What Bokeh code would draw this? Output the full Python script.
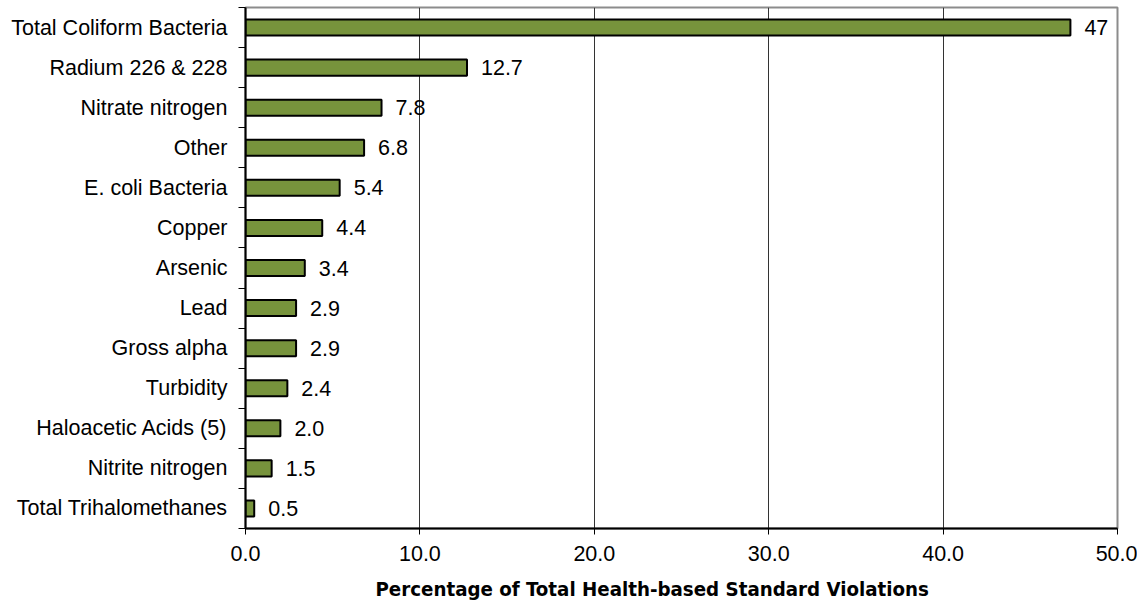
from bokeh.plotting import figure
from bokeh.models import ColumnDataSource, FixedTicker, NumeralTickFormatter, Range1d, LabelSet, Title
from bokeh.core.properties import value
from bokeh.embed import file_html
from bokeh.resources import INLINE

categories = ["Total Coliform Bacteria", "Radium 226 & 228", "Nitrate nitrogen", "Other",
              "E. coli Bacteria", "Copper", "Arsenic", "Lead", "Gross alpha", "Turbidity",
              "Haloacetic Acids (5)", "Nitrite nitrogen", "Total Trihalomethanes"]
values = [47.3, 12.7, 7.8, 6.8, 5.4, 4.4, 3.4, 2.9, 2.9, 2.4, 2.0, 1.5, 0.5]
value_labels = ["47", "12.7", "7.8", "6.8", "5.4", "4.4", "3.4", "2.9", "2.9", "2.4", "2.0", "1.5", "0.5"]
x_ticks = [0, 10, 20, 30, 40, 50]
x_title = "Percentage of Total Health-based Standard Violations"

n = len(categories)
ypos = [n - 1 - i for i in range(n)]
src = ColumnDataSource(dict(y=ypos, v=values, lab=value_labels, cat=categories))

FONT = "Liberation Sans"

p = figure(frame_width=872, frame_height=521, output_backend="svg", toolbar_location=None,
           x_range=Range1d(0, 50), y_range=Range1d(-0.5, n - 0.5),
           min_border_left=245, min_border_right=20, min_border_top=7, min_border_bottom=0)

p.hbar(y="y", right="v", left=0, height=0.4, source=src,
       fill_color="#77933C", line_color="black", line_width=2)

labels = LabelSet(x="v", y="y", text="lab", source=src, x_offset=14,
                  text_baseline="middle", text_font=value(FONT), text_font_size="21.5px",
                  text_color="black")
p.add_layout(labels)

# x axis
p.xaxis.ticker = FixedTicker(ticks=x_ticks, minor_ticks=[])
p.xaxis.formatter = NumeralTickFormatter(format="0.0")
p.xaxis.major_tick_in = 0
p.xaxis.major_tick_out = 6
p.xaxis.minor_tick_in = 0
p.xaxis.minor_tick_out = 0
p.xaxis.axis_line_color = "black"
p.xaxis.axis_line_width = 2
p.xaxis.major_tick_line_color = "black"
p.xaxis.major_tick_line_width = 1
p.xaxis.major_label_text_font = FONT
p.xaxis.major_label_text_font_size = "21.5px"
p.xaxis.major_label_text_color = "black"
p.xaxis.major_label_standoff = 11

xt = Title(text=x_title, align="left", offset=130, text_font="DejaVu Sans Condensed",
           text_font_style="bold", text_font_size="20.3px", text_color="black", standoff=23)
p.add_layout(xt, "below")

# y axis: labels at centers, ticks at boundaries
p.yaxis.ticker = FixedTicker(ticks=ypos, minor_ticks=[k - 0.5 for k in range(n + 1)])
p.yaxis.major_label_overrides = {y: c for y, c in zip(ypos, categories)}
p.yaxis.major_tick_in = 0
p.yaxis.major_tick_out = 0
p.yaxis.minor_tick_in = 0
p.yaxis.minor_tick_out = 7
p.yaxis.minor_tick_line_color = "black"
p.yaxis.minor_tick_line_width = 1
p.yaxis.axis_line_color = "black"
p.yaxis.axis_line_width = 2
p.yaxis.major_label_text_font = FONT
p.yaxis.major_label_text_font_size = "21.5px"
p.yaxis.major_label_text_color = "black"
p.yaxis.major_label_standoff = 11

p.xgrid.ticker = FixedTicker(ticks=[10, 20, 30, 40])
p.xgrid.grid_line_color = "#333333"
p.xgrid.grid_line_width = 1
p.ygrid.grid_line_color = None

p.outline_line_color = "#8C8C8C"
p.outline_line_width = 2
p.background_fill_color = "white"
p.border_fill_color = "white"

open("out.html", "w").write(file_html(p, INLINE))
